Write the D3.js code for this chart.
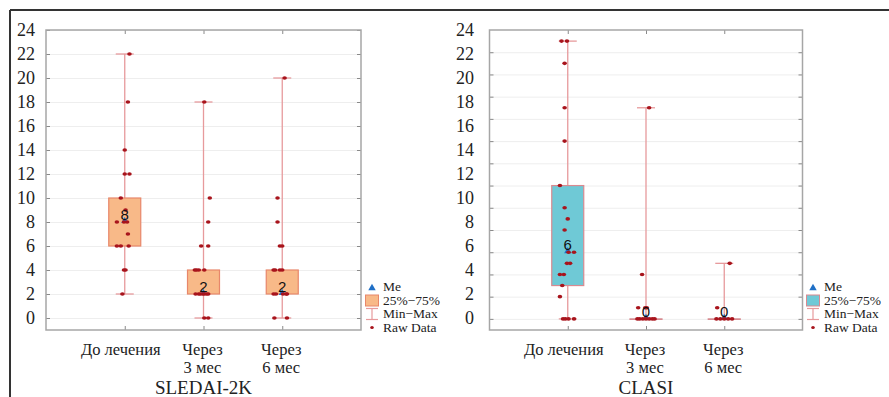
<!DOCTYPE html>
<html>
<head>
<meta charset="utf-8">
<script src="https://cdn.jsdelivr.net/npm/d3@7"></script>
<style>
  body { margin: 0; background: #fff; }
  svg { display: block; }
</style>
</head>
<body>
<svg id="chart" width="889" height="397"></svg>
<script>
// categories (multi-line tick labels) and y tick values
const categoryLines = [["До лечения"], ["Через", "3 мес"], ["Через", "6 мес"]];
const yTicks = [0, 2, 4, 6, 8, 10, 12, 14, 16, 18, 20, 22, 24];

// SLEDAI-2K
const sledaiMin = [2, 0, 0];
const sledaiQ1 = [6, 2, 2];
const sledaiMedian = [8, 2, 2];
const sledaiQ3 = [10, 4, 4];
const sledaiMax = [22, 18, 20];
const sledaiRaw = [
  [22, 18, 14, 12, 12, 10, 9, 8, 8, 8, 7, 6, 6, 6, 4, 4, 2],
  [18, 10, 8, 6, 6, 4, 4, 4, 4, 2, 2, 2, 2, 2, 2, 2, 0, 0],
  [20, 10, 8, 6, 6, 4, 4, 4, 4, 2, 2, 2, 2, 2, 0, 0]
];
// horizontal jitter of the raw points, in category units
const sledaiJitter = [
  [0.06, 0.04, 0, 0, 0.06, -0.05, 0.01, -0.1, -0.01, 0.03, 0.04, -0.1, -0.05, 0.05, -0.01, 0.01, -0.03],
  [0.01, 0.08, 0.06, -0.03, 0.06, -0.11, -0.09, -0.06, 0.01, -0.1, -0.06, -0.04, -0.01, 0.01, 0.04, 0.06, 0.01, 0.06],
  [0.03, -0.06, -0.06, -0.03, 0, -0.11, -0.09, -0.03, 0, -0.11, -0.08, 0.01, 0.05, 0.06, -0.1, 0.06]
];

// CLASI
const clasiMin = [0, 0, 0];
const clasiQ1 = [3, 0, 0];
const clasiMedian = [6, 0, 0];
const clasiQ3 = [12, 0, 0];
const clasiMax = [25, 19, 5];
const clasiRaw = [
  [25, 25, 23, 19, 16, 12, 10, 9, 8, 6, 6, 5, 5, 4, 4, 3, 2, 0, 0, 0, 0],
  [19, 4, 1, 1, 1, 0, 0, 0, 0, 0, 0, 0],
  [5, 1, 0, 0, 0, 0, 0]
];
const clasiJitter = [
  [-0.08, -0.01, -0.04, -0.04, -0.04, -0.1, -0.04, 0, -0.04, 0.01, 0.08, -0.01, 0.03, -0.1, -0.05, -0.07, -0.1, -0.06, -0.03, 0.01, 0.08],
  [0.04, -0.05, -0.1, -0.01, 0.01, -0.11, -0.08, -0.04, 0, 0.04, 0.08, 0.11],
  [0.07, -0.09, -0.1, -0.05, 0, 0.05, 0.1]
];

const svg = d3.select("#chart");
const serif = "'Liberation Serif', 'Times New Roman', serif";
const whiskerColor = "#e79a9c";
const dotColor = "#a8141c";
const medianColor = "#1f6fc6";

// outer frame (left + top)
svg.append("line").attr("x1", 10).attr("y1", 10).attr("x2", 889).attr("y2", 10)
  .attr("stroke", "#333").attr("stroke-width", 2);
svg.append("line").attr("x1", 10).attr("y1", 10).attr("x2", 10).attr("y2", 397)
  .attr("stroke", "#333").attr("stroke-width", 2);

function drawPanel(p) {
  const x = d3.scaleLinear().domain([0, 4]).range([p.x0, p.x1]);
  const y = d3.scaleLinear().domain(p.yDomain).range([330, 30]);
  const yLab = d3.scaleLinear().domain([-1, 24]).range([330, 30]);
  const g = svg.append("g");

  // faint gridlines
  g.append("g").attr("class", "grid").attr("transform", `translate(${p.x0},0)`)
    .call(d3.axisLeft(y).tickValues(yTicks).tickSize(-(p.x1 - p.x0)).tickFormat(""))
    .call(s => s.select(".domain").remove())
    .call(s => s.selectAll("line").attr("stroke", "#eeeeee"));

  // inner tick marks on all four sides
  const ticks = g.append("g");
  ticks.append("g").attr("transform", `translate(${p.x0},0)`)
    .call(d3.axisRight(y).tickValues(yTicks).tickSize(4).tickFormat(""));
  ticks.append("g").attr("transform", `translate(${p.x1},0)`)
    .call(d3.axisLeft(y).tickValues(yTicks).tickSize(4).tickFormat(""));
  ticks.append("g").attr("transform", "translate(0,30)")
    .call(d3.axisBottom(x).tickValues([1, 2, 3]).tickSize(4).tickFormat(""));
  ticks.append("g").attr("transform", "translate(0,330)")
    .call(d3.axisTop(x).tickValues([1, 2, 3]).tickSize(4).tickFormat(""));
  ticks.selectAll(".domain").remove();
  ticks.selectAll(".tick line").attr("stroke", "#8a8a8a");

  // frame
  g.append("rect").attr("x", p.x0).attr("y", 30).attr("width", p.x1 - p.x0).attr("height", 300)
    .attr("fill", "none").attr("stroke", "#a6a6a6").attr("stroke-width", 1.5);

  // y labels
  g.selectAll(".ylab").data(yTicks).enter().append("text")
    .attr("x", p.labelX).attr("y", d => yLab(d)).attr("dy", "0.34em")
    .attr("text-anchor", "end").attr("font-family", serif).attr("font-size", 18)
    .attr("fill", "#222").text(d => d);

  const idx = [0, 1, 2];
  const bw = 32, cw = 18;

  // whiskers
  g.selectAll(".wh").data(idx).enter().append("line")
    .attr("x1", i => x(i + 1)).attr("x2", i => x(i + 1))
    .attr("y1", i => y(p.max[i])).attr("y2", i => y(p.min[i]))
    .attr("stroke", whiskerColor).attr("stroke-width", 1.3);
  ["max", "min"].forEach(k => {
    g.selectAll(".cap" + k).data(idx).enter().append("line")
      .attr("x1", i => x(i + 1) - cw / 2).attr("x2", i => x(i + 1) + cw / 2)
      .attr("y1", i => y(p[k][i])).attr("y2", i => y(p[k][i]))
      .attr("stroke", whiskerColor).attr("stroke-width", 1.3);
  });

  // boxes
  g.selectAll(".box").data(idx).enter().append("rect")
    .attr("x", i => x(i + 1) - bw / 2).attr("width", bw)
    .attr("y", i => y(p.q3[i])).attr("height", i => Math.max(0.5, y(p.q1[i]) - y(p.q3[i])))
    .attr("fill", p.fill).attr("stroke", p.stroke).attr("stroke-width", 1.2);

  // median markers
  g.selectAll(".med").data(idx).enter().append("path")
    .attr("d", d3.symbol(d3.symbolTriangle).size(22))
    .attr("transform", i => `translate(${x(i + 1)},${y(p.median[i]) - 1})`)
    .attr("fill", medianColor);

  // raw data
  p.raw.forEach((vals, i) => {
    g.selectAll(".raw" + i).data(vals).enter().append("ellipse")
      .attr("cx", (v, j) => x(i + 1 + p.jitter[i][j])).attr("cy", v => y(v))
      .attr("rx", 2.3).attr("ry", 1.8).attr("fill", dotColor);
  });

  // median value labels
  g.selectAll(".medlab").data(idx).enter().append("text")
    .attr("x", i => x(i + 1)).attr("y", i => y(p.median[i]) - 7).attr("dy", "0.35em")
    .attr("text-anchor", "middle").attr("font-family", "'Liberation Sans', Arial, sans-serif")
    .attr("font-size", 15).attr("fill", "#111").text(i => p.median[i]);

  // category labels
  categoryLines.forEach((lines, i) => {
    lines.forEach((t, k) => {
      g.append("text").attr("x", x(i + 1) - (lines.length === 1 ? 4 : 1)).attr("y", 355 + k * 17.5)
        .attr("text-anchor", "middle").attr("font-family", serif).attr("font-size", 16.5)
        .attr("fill", "#222").text(t);
    });
  });

  // panel title
  g.append("text").attr("x", (p.x0 + p.x1) / 2).attr("y", 393.5)
    .attr("text-anchor", "middle").attr("font-family", serif).attr("font-size", 19)
    .attr("fill", "#222").text(p.title);

  // legend
  const lx = p.legendX, tx = lx + 11;
  const rows = [287, 300.5, 314, 327.5];
  g.append("path").attr("d", d3.symbol(d3.symbolTriangle).size(24))
    .attr("transform", `translate(${lx},${rows[0] + 1})`).attr("fill", medianColor);
  g.append("rect").attr("x", lx - 6.5).attr("y", rows[1] - 5.5).attr("width", 13).attr("height", 11)
    .attr("fill", p.fill).attr("stroke", p.stroke).attr("stroke-width", 1);
  g.append("line").attr("x1", lx).attr("x2", lx).attr("y1", rows[2] - 5.5).attr("y2", rows[2] + 5.5)
    .attr("stroke", whiskerColor).attr("stroke-width", 1.2);
  [-5.5, 5.5].forEach(d => g.append("line").attr("x1", lx - 6).attr("x2", lx + 6)
    .attr("y1", rows[2] + d).attr("y2", rows[2] + d).attr("stroke", whiskerColor).attr("stroke-width", 1.2));
  g.append("ellipse").attr("cx", lx).attr("cy", rows[3]).attr("rx", 1.8).attr("ry", 1.5).attr("fill", dotColor);
  ["Me", "25%\u221275%", "Min\u2212Max", "Raw Data"].forEach((t, k) => {
    g.append("text").attr("x", tx).attr("y", rows[k]).attr("dy", "0.33em")
      .attr("font-family", serif).attr("font-size", 13.5).attr("fill", "#222").text(t);
  });
}

drawPanel({
  x0: 46, x1: 361, yDomain: [-1, 24], labelX: 35, legendX: 372,
  min: sledaiMin, q1: sledaiQ1, median: sledaiMedian, q3: sledaiQ3, max: sledaiMax,
  raw: sledaiRaw, jitter: sledaiJitter, title: "SLEDAI-2K",
  fill: "#f8b988", stroke: "#e8876a"
});

drawPanel({
  x0: 489.5, x1: 802.5, yDomain: [-1, 26], labelX: 474, legendX: 813,
  min: clasiMin, q1: clasiQ1, median: clasiMedian, q3: clasiQ3, max: clasiMax,
  raw: clasiRaw, jitter: clasiJitter, title: "CLASI",
  fill: "#6fc9d6", stroke: "#d98a90"
});
</script>
</body>
</html>
